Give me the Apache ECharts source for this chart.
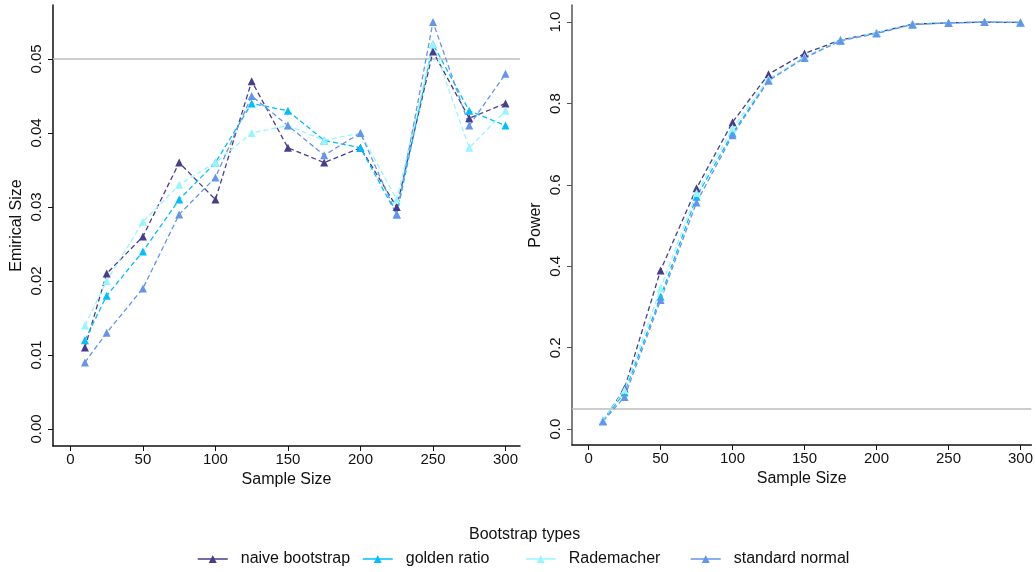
<!DOCTYPE html>
<html>
<head>
    <meta charset="utf-8">
    <title>Bootstrap size and power</title>
    <script src="https://cdn.jsdelivr.net/npm/echarts@6/dist/echarts.min.js"></script>
    <style>
        html, body { margin: 0; padding: 0; background: #fff; }
        #main { width: 1036px; height: 572px; }
    </style>
</head>
<body>
<div id="main"></div>
<script>
    // sample sizes on the x axis
    var sampleSizes = [10, 25, 50, 75, 100, 125, 150, 175, 200, 225, 250, 275, 300];

    // empirical size (left panel)
    var sizeNaive    = [0.011, 0.021, 0.026, 0.036, 0.031, 0.047, 0.038, 0.036, 0.038, 0.030, 0.051, 0.042, 0.044];
    var sizeGolden   = [0.012, 0.018, 0.024, 0.031, 0.036, 0.044, 0.043, 0.039, 0.038, 0.029, 0.052, 0.043, 0.041];
    var sizeRademach = [0.014, 0.020, 0.028, 0.033, 0.036, 0.040, 0.041, 0.039, 0.040, 0.031, 0.052, 0.038, 0.043];
    var sizeStdNorm  = [0.009, 0.013, 0.019, 0.029, 0.034, 0.045, 0.041, 0.037, 0.040, 0.029, 0.055, 0.041, 0.048];

    // power (right panel)
    var powerNaive    = [0.020, 0.100, 0.390, 0.592, 0.754, 0.872, 0.923, 0.956, 0.974, 0.995, 0.998, 1.000, 0.999];
    var powerGolden   = [0.020, 0.090, 0.325, 0.571, 0.727, 0.858, 0.913, 0.955, 0.973, 0.995, 0.998, 1.000, 0.999];
    var powerRademach = [0.022, 0.096, 0.346, 0.580, 0.739, 0.860, 0.914, 0.955, 0.975, 0.995, 0.998, 1.000, 0.999];
    var powerStdNorm  = [0.019, 0.079, 0.317, 0.557, 0.722, 0.856, 0.912, 0.954, 0.972, 0.994, 0.998, 1.000, 0.999];

    var typeNames = ['naive bootstrap', 'golden ratio', 'Rademacher', 'standard normal'];
    var typeColors = ['#483D8B', '#00BFFF', '#98F5FF', '#6495ED'];

    var xTicks = [0, 50, 100, 150, 200, 250, 300];
    var sizeTicks = [0, 0.01, 0.02, 0.03, 0.04, 0.05];
    var powerTicks = [0, 0.2, 0.4, 0.6, 0.8, 1.0];
    var nominalLevel = 0.05;

    var font = 'Liberation Sans, Arial, sans-serif';

    function pairs(ys) {
        return sampleSizes.map(function (x, i) { return [x, ys[i]]; });
    }

    function makeSeries(name, color, ys, gridIdx, withRef) {
        var s = {
            name: name,
            type: 'line',
            xAxisIndex: gridIdx,
            yAxisIndex: gridIdx,
            data: pairs(ys),
            symbol: 'triangle',
            symbolSize: 8,
            color: color,
            itemStyle: { color: color },
            lineStyle: { color: color, width: 1.3, type: [5, 3] },
            animation: false
        };
        if (withRef) {
            s.markLine = {
                silent: true,
                symbol: ['none', 'none'],
                label: { show: false },
                lineStyle: { color: '#bdbdbd', type: 'solid', width: 1.5 },
                data: [{ yAxis: nominalLevel }],
                z: 1
            };
        }
        return s;
    }

    function xAxis(gridIdx, min, max) {
        return {
            type: 'value',
            gridIndex: gridIdx,
            min: min,
            max: max,
            name: 'Sample Size',
            nameLocation: 'middle',
            nameGap: 24,
            nameTextStyle: { fontFamily: font, fontSize: 16, color: '#111' },
            axisLine: { onZero: false, lineStyle: { color: '#111', width: 1.5 } },
            axisTick: { show: true, length: 5, customValues: xTicks, lineStyle: { color: '#111' } },
            axisLabel: { customValues: xTicks, fontFamily: font, fontSize: 15, color: '#111', margin: 6 },
            splitLine: { show: false }
        };
    }

    function yAxis(gridIdx, name, min, max, ticks, digits, lineColor, gap) {
        return {
            type: 'value',
            gridIndex: gridIdx,
            min: min,
            max: max,
            name: name,
            nameLocation: 'middle',
            nameRotate: 90,
            nameGap: gap,
            nameTextStyle: { fontFamily: font, fontSize: 16, color: '#111' },
            axisLine: { show: true, onZero: false, lineStyle: { color: lineColor, width: 1.5 } },
            axisTick: { show: true, length: 5, customValues: ticks, lineStyle: { color: lineColor } },
            axisLabel: {
                customValues: ticks,
                rotate: 90,
                fontFamily: font,
                fontSize: 15,
                color: '#111',
                margin: 9,
                formatter: function (v) { return Number(v).toFixed(digits); }
            },
            splitLine: { show: false }
        };
    }

    var series = [];
    var sizeSets = [sizeNaive, sizeGolden, sizeRademach, sizeStdNorm];
    var powerSets = [powerNaive, powerGolden, powerRademach, powerStdNorm];
    for (var i = 0; i < 4; i++) {
        series.push(makeSeries(typeNames[i], typeColors[i], sizeSets[i], 0, i === 0));
    }
    for (var j = 0; j < 4; j++) {
        series.push(makeSeries(typeNames[j], typeColors[j], powerSets[j], 1, j === 0));
    }

    // one legend per column, so the columns sit at fixed places like the original
    var legendLefts = [197, 362, 525, 690];
    var legends = typeNames.map(function (n, i) {
        return {
            data: [n],
            left: legendLefts[i],
            top: 551,
            padding: 0,
            itemWidth: 30,
            itemHeight: 10,
            selectedMode: false,
            lineStyle: { type: 'solid', width: 1.5 },
            textStyle: { fontFamily: font, fontSize: 16, color: '#111', padding: [0, 0, 0, 8] }
        };
    });

    var chart = echarts.init(document.getElementById('main'));
    chart.setOption({
        animation: false,
        backgroundColor: '#fff',
        title: {
            text: 'Bootstrap types',
            left: 469,
            top: 527,
            padding: 0,
            textStyle: { fontFamily: font, fontSize: 16, fontWeight: 'normal', color: '#111' }
        },
        legend: legends,
        grid: [
            { left: 53, top: 5, width: 467, height: 441 },
            { left: 572, top: 5, width: 464, height: 440 }
        ],
        xAxis: [xAxis(0, -12, 310), xAxis(1, -11.5, 307.5)],
        yAxis: [
            yAxis(0, 'Emirical Size', -0.0023, 0.0573, sizeTicks, 2, '#111', 28),
            yAxis(1, 'Power', -0.039, 1.042, powerTicks, 1, '#555', 28)
        ],
        series: series
    });
</script>
</body>
</html>
